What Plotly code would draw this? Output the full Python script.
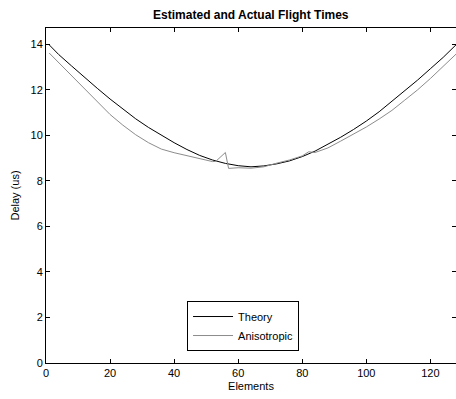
import plotly.graph_objects as go

# Data
theory_x = [1, 4, 8, 12, 16, 20, 24, 28, 32, 36, 40, 44, 48, 52, 56, 60, 64,
            68, 72, 76, 80, 84, 88, 92, 96, 100, 104, 108, 112, 116, 120, 124, 128]
theory_y = [13.98, 13.55, 13.05, 12.55, 12.07, 11.60, 11.15, 10.73, 10.35, 10.00, 9.68,
            9.38, 9.12, 8.92, 8.77, 8.67, 8.62,
            8.66, 8.75, 8.88, 9.07, 9.31, 9.60, 9.92, 10.26, 10.63, 11.04, 11.49,
            11.95, 12.43, 12.93, 13.43, 13.98]

aniso_x = [1, 4, 8, 12, 16, 20, 24, 28, 32, 36, 40, 44, 48, 52, 53, 54, 55, 56, 57,
           60, 64, 68, 72, 76, 80, 82, 84, 88, 92, 96, 100, 104, 108, 112, 116, 120, 124, 128]
aniso_y = [13.62, 13.20, 12.60, 12.05, 11.50, 10.92, 10.45, 10.03, 9.68, 9.40, 9.24,
           9.12, 8.99, 8.85, 8.86, 9.00, 9.15, 9.25, 8.55,
           8.58, 8.56, 8.62, 8.78, 8.92, 9.10, 9.28, 9.25, 9.45, 9.75, 10.05, 10.37,
           10.72, 11.10, 11.55, 12.00, 12.50, 13.05, 13.57]

x_ticks = [0, 20, 40, 60, 80, 100, 120]
y_ticks = [0, 2, 4, 6, 8, 10, 12, 14]

FONT = "Liberation Sans, Arial, sans-serif"

fig = go.Figure()
fig.add_trace(go.Scatter(x=theory_x, y=theory_y, mode="lines", name="Theory",
                         line=dict(color="#000000", width=1)))
fig.add_trace(go.Scatter(x=aniso_x, y=aniso_y, mode="lines", name="Anisotropic",
                         line=dict(color="#8c8c8c", width=1)))

axis_common = dict(showline=True, linecolor="#000000", linewidth=1, mirror="ticks",
                   ticks="inside", ticklen=4, tickcolor="#000000", showgrid=False,
                   zeroline=False, tickfont=dict(family=FONT, size=11, color="#000"))

fig.update_layout(
    width=456, height=399,
    margin=dict(l=46, r=0, t=28, b=36, autoexpand=False),
    paper_bgcolor="white", plot_bgcolor="white",
    font=dict(family=FONT, size=11, color="#000"),
    title=dict(text="<b>Estimated and Actual Flight Times</b>", x=0.55, xanchor="center",
               y=0.963, yanchor="middle", font=dict(family=FONT, size=12, color="#000")),
    xaxis=dict(range=[0, 128], tickvals=x_ticks, **axis_common,
               title=dict(text="Elements", standoff=4, font=dict(family=FONT, size=11))),
    yaxis=dict(range=[0, 14.72], tickvals=y_ticks, **axis_common,
               title=dict(text="Delay (us)", standoff=8, font=dict(family=FONT, size=11))),
    legend=dict(x=0.344, y=0.185, xanchor="left", yanchor="top",
                bgcolor="white", bordercolor="#000", borderwidth=1,
                font=dict(family=FONT, size=11), tracegroupgap=0, itemwidth=40),
    showlegend=True,
)
fig.update_xaxes(automargin=False)
fig.update_yaxes(automargin=False)

fig.write_html("out.html", config={"displayModeBar": False},
               post_script="document.body.style.margin='0';document.body.style.padding='0';")
